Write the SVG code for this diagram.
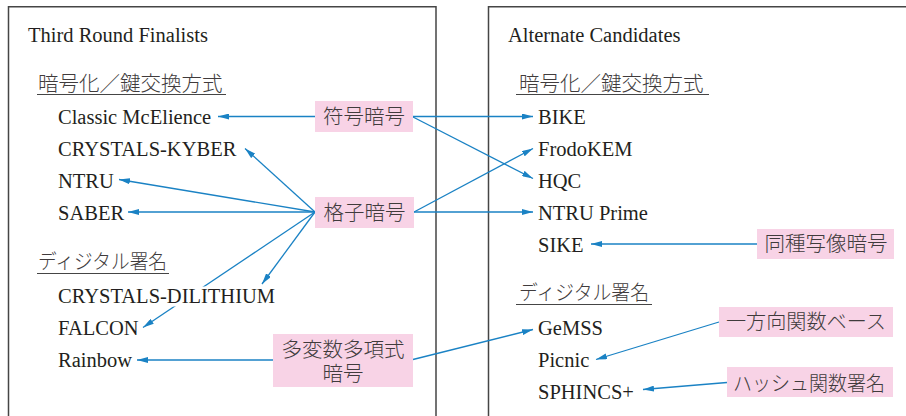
<svg xmlns="http://www.w3.org/2000/svg" width="906" height="416" viewBox="0 0 906 416">
<style>
.t{font-family:"Liberation Serif","Noto Sans CJK JP",serif;font-size:20.5px;fill:#231f20}
.j{font-family:"Noto Sans CJK JP","Liberation Serif",sans-serif;font-size:20.5px;font-weight:300;fill:#403b3c}
.j2{font-family:"Liberation Serif","Noto Sans CJK JP",sans-serif;font-size:20.5px;font-weight:300;fill:#403b3c}
.frame{fill:none;stroke:#454545;stroke-width:1.5}
.ul{stroke:#454545;stroke-width:1.2}
.lbl{fill:#f8d3e6}
.c{fill:none;stroke:#1a82c4;stroke-width:1.3;marker-end:url(#ah)}
</style>
<defs>
<marker id="ah" markerUnits="userSpaceOnUse" markerWidth="12" markerHeight="6" refX="11" refY="3" orient="auto">
<path d="M0,0 L11,3 L0,6 Z" fill="#1a82c4"/>
</marker>
</defs>
<rect width="906" height="416" fill="#fff"/>

<g id="frames">
<path class="frame" d="M8.5,418 V6.8 H436 V418"/>
<path class="frame" d="M488.5,418 V6.8 H908"/>
</g>

<g id="connectors">
<line class="c" x1="315" y1="116.5" x2="218" y2="116.5"/>
<line class="c" x1="413" y1="116.5" x2="533" y2="116.5"/>
<line class="c" x1="413" y1="117" x2="533" y2="178.5"/>
<line class="c" x1="414" y1="212" x2="533" y2="148.5"/>
<line class="c" x1="414" y1="212" x2="533" y2="212"/>
<line class="c" x1="315" y1="212" x2="245" y2="148.5"/>
<line class="c" x1="315" y1="212" x2="119" y2="179.5"/>
<line class="c" x1="315" y1="212" x2="128" y2="212"/>
<line class="c" x1="315" y1="212" x2="262" y2="284"/>
<line class="c" x1="315" y1="212" x2="143" y2="327.5"/>
<line class="c" x1="273" y1="360" x2="137" y2="360"/>
<line class="c" x1="413" y1="359.5" x2="533" y2="329.5"/>
<line class="c" x1="757" y1="244" x2="591" y2="244"/>
<line class="c" x1="719" y1="322" x2="596" y2="359.5"/>
<line class="c" x1="727" y1="382.5" x2="643" y2="389.5"/>
</g>

<g id="left-title"><text class="t" x="28" y="42">Third Round Finalists</text></g>
<g id="left-kem-heading">
<text class="j" x="38" y="90.5">暗号化／鍵交換方式</text>
<line class="ul" x1="37" y1="94.5" x2="226" y2="94.5"/>
</g>
<g id="classic"><text class="t" x="58" y="124">Classic McElience</text></g>
<g id="kyber"><text class="t" x="58" y="156">CRYSTALS-KYBER</text></g>
<g id="ntru"><text class="t" x="58" y="188">NTRU</text></g>
<g id="saber"><text class="t" x="58" y="220">SABER</text></g>
<g id="left-sig-heading">
<text class="j" x="38" y="268.5" textLength="129" lengthAdjust="spacingAndGlyphs">ディジタル署名</text>
<line class="ul" x1="37" y1="273.5" x2="169" y2="273.5"/>
</g>
<g id="dilithium">
<rect x="56" y="286.5" width="223" height="20" fill="#fff"/>
<text class="t" x="58" y="303">CRYSTALS-DILITHIUM</text>
</g>
<g id="falcon"><text class="t" x="58" y="335">FALCON</text></g>
<g id="rainbow"><text class="t" x="58" y="367">Rainbow</text></g>

<g id="right-title"><text class="t" x="508" y="42">Alternate Candidates</text></g>
<g id="right-kem-heading">
<text class="j" x="519" y="90.5">暗号化／鍵交換方式</text>
<line class="ul" x1="516" y1="94.5" x2="709" y2="94.5"/>
</g>
<g id="bike"><text class="t" x="538" y="124">BIKE</text></g>
<g id="frodo"><text class="t" x="538" y="156">FrodoKEM</text></g>
<g id="hqc"><text class="t" x="538" y="188">HQC</text></g>
<g id="ntruprime"><text class="t" x="538" y="220">NTRU Prime</text></g>
<g id="sike"><text class="t" x="538" y="252">SIKE</text></g>
<g id="right-sig-heading">
<text class="j" x="519" y="300" textLength="130" lengthAdjust="spacingAndGlyphs">ディジタル署名</text>
<line class="ul" x1="516" y1="304.5" x2="652" y2="304.5"/>
</g>
<g id="gemss"><text class="t" x="538" y="335">GeMSS</text></g>
<g id="picnic"><text class="t" x="538" y="367">Picnic</text></g>
<g id="sphincs"><text class="t" x="538" y="399">SPHINCS+</text></g>

<g id="code-based">
<rect class="lbl" x="315" y="101" width="98" height="31"/>
<text class="j" x="364" y="124" text-anchor="middle">符号暗号</text>
</g>
<g id="lattice">
<rect class="lbl" x="315" y="197" width="99" height="31"/>
<text class="j" x="364.5" y="220" text-anchor="middle">格子暗号</text>
</g>
<g id="multivariate">
<rect class="lbl" x="273" y="334" width="140" height="53"/>
<text class="j2" x="343" y="356.5" text-anchor="middle">多変数多項式</text>
<text class="j2" x="343" y="380.5" text-anchor="middle">暗号</text>
</g>
<g id="isogeny">
<rect class="lbl" x="757" y="229" width="137" height="30"/>
<text class="j" x="826" y="251" text-anchor="middle">同種写像暗号</text>
</g>
<g id="oneway">
<rect class="lbl" x="719" y="307" width="174" height="30"/>
<text class="j" x="726" y="329" textLength="160" lengthAdjust="spacingAndGlyphs">一方向関数ベース</text>
</g>
<g id="hash">
<rect class="lbl" x="727" y="367" width="166" height="30"/>
<text class="j" x="733" y="390.5" textLength="152" lengthAdjust="spacingAndGlyphs">ハッシュ関数署名</text>
</g>
</svg>
